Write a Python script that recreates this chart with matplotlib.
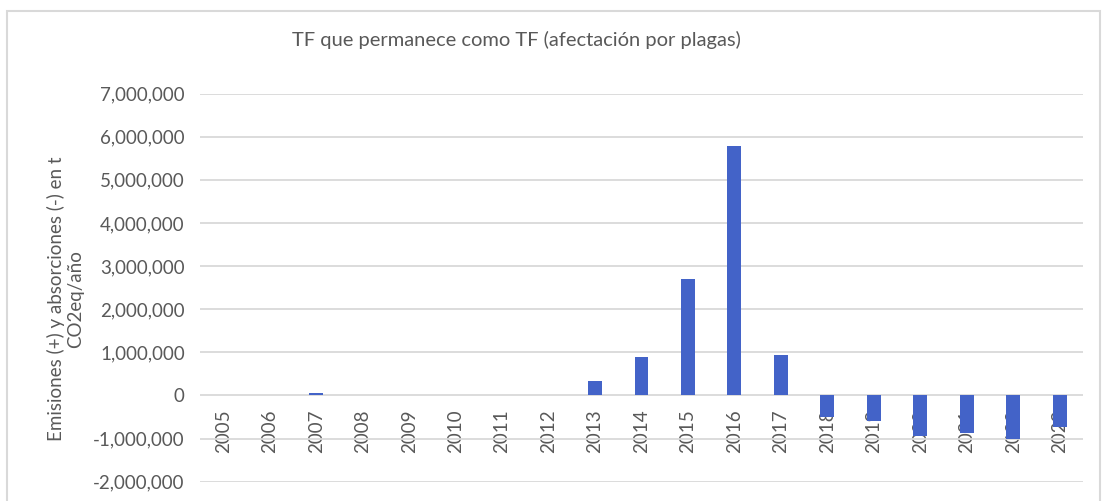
import matplotlib.pyplot as plt
from matplotlib.patches import Rectangle
from matplotlib.ticker import FuncFormatter, MultipleLocator
import numpy as np

plt.rcParams["font.family"] = ["Lato", "DejaVu Sans"]

years = [str(y) for y in range(2005, 2024)]
values = [0, 0, 50000, 0, 0, 0, 0, 0, 340000, 885000, 2700000, 5780000,
          940000, -490000, -600000, -940000, -860000, -1020000, -740000]

txt = "#595959"
grid = "#d9d9d9"

fig = plt.figure(figsize=(11.07, 5.01), dpi=100)
# chart border (bottom is cut off in the reference)
fig.patches.append(Rectangle((7 / 1107, -0.1), (1100 - 7) / 1107, 1.1 - 11 / 501,
                             transform=fig.transFigure, fill=False,
                             edgecolor=grid, linewidth=1.5))

ax = fig.add_axes([200 / 1107, 1 - 481.7 / 501, 883 / 1107, (481.7 - 93.5) / 501])
x = np.arange(len(years))
ax.bar(x, values, width=0.3, color="#4363c8", zorder=2)

ax.set_xlim(-0.5, len(years) - 0.5)
ax.set_ylim(-2000000, 7000000)
ax.yaxis.set_major_locator(MultipleLocator(1000000))
ax.yaxis.set_major_formatter(FuncFormatter(lambda v, p: f"{int(v):,}"))
ax.grid(axis="y", color=grid, linewidth=1.3, zorder=0)
ax.set_axisbelow(True)

for s in ax.spines.values():
    s.set_visible(False)
ax.spines["bottom"].set_position(("data", 0))

ax.set_xticks(x)
ax.set_xticklabels(years, rotation=90, color=txt, fontsize=13.5)
ax.tick_params(axis="x", length=0, pad=10)
ax.tick_params(axis="y", length=0, pad=11, labelcolor=txt, labelsize=13.5)
for lab in ax.get_xticklabels():
    lab.set_zorder(5)

ax.set_ylabel("Emisiones (+) y absorciones (-) en t\nCO2eq/año", color=txt,
              fontsize=13.5)
ax.yaxis.set_label_coords(-0.131, 0.47)

fig.text(516 / 1107, 1 - 40 / 501, "TF que permanece como TF (afectación por plagas)",
         ha="center", va="center", fontsize=14.5, color=txt)

fig.savefig("out.png", dpi=100)
